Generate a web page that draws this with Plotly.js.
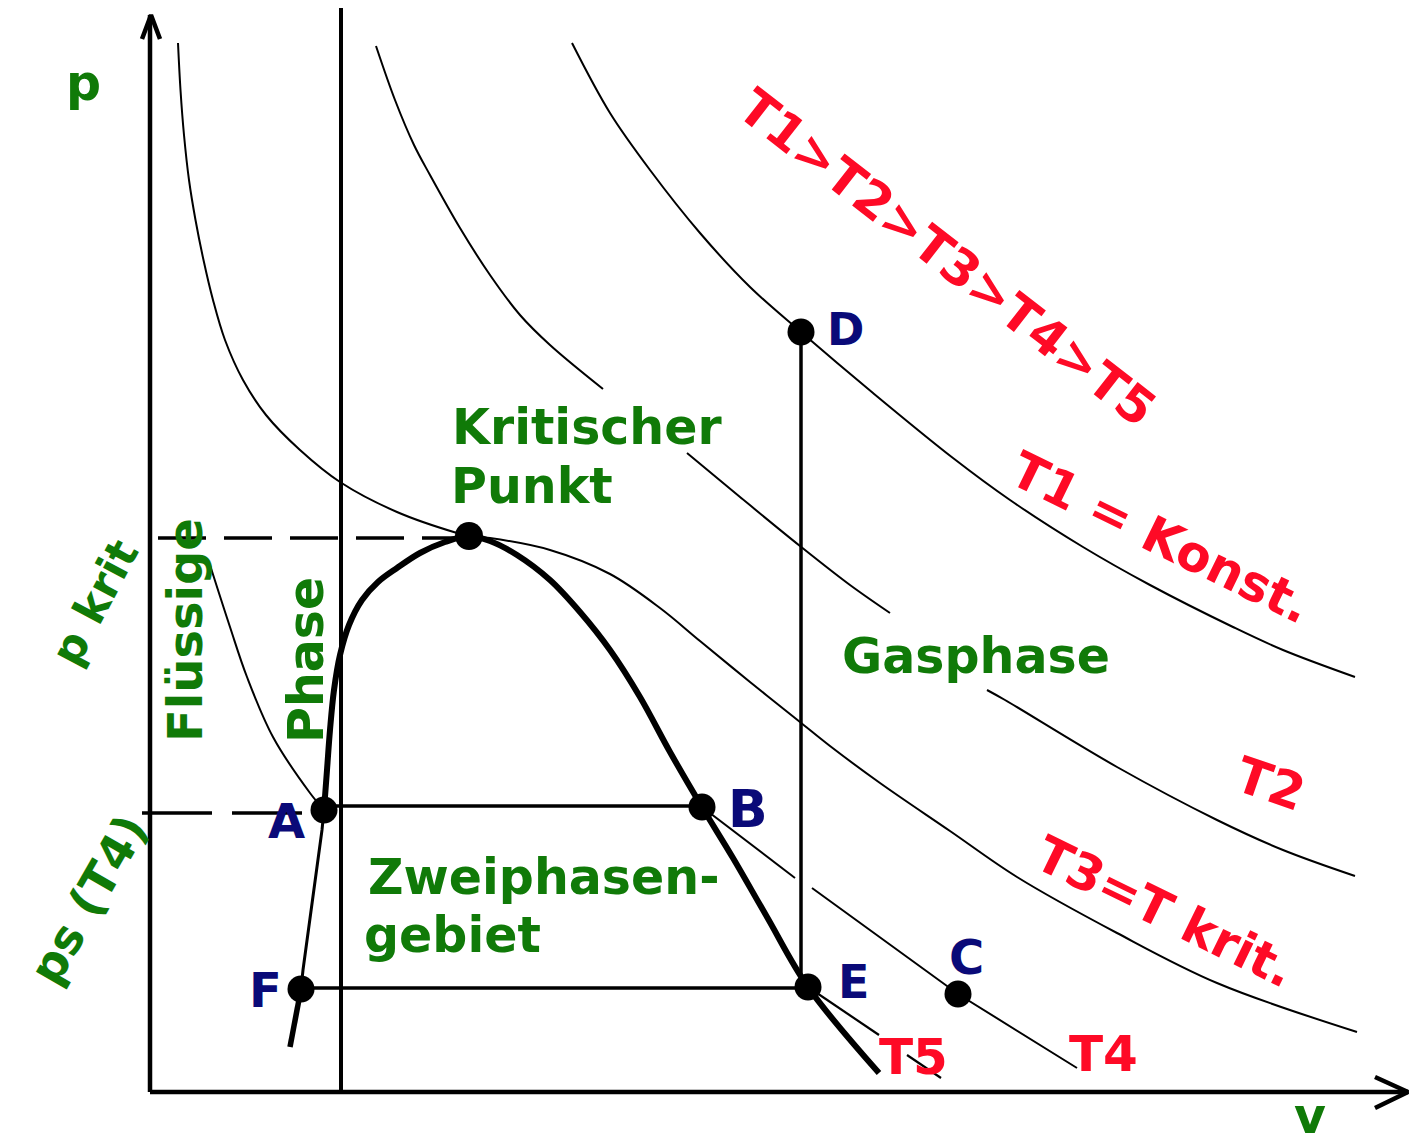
<!DOCTYPE html>
<html>
<head>
<meta charset="utf-8">
<script src="https://cdn.plot.ly/plotly-3.0.1.min.js"></script>
<style>html,body{margin:0;padding:0;background:#fff;}#chart{width:1419px;height:1145px;}</style>
</head>
<body>
<div id="chart"></div>
<script>
// ---- data (v = specific volume, p = pressure, arbitrary units) ----
const axisX_v = [0, 12.58], axisX_p = [0, 0];
const arrowX_v = [12.25, 12.58, 12.25], arrowX_p = [0.15, 0, -0.16];
const axisY_v = [0, 0], axisY_p = [0, 10.77];
const arrowY_v = [-0.08, 0.01, 0.10], arrowY_p = [10.53, 10.77, 10.53];
const liquidLimit_v = [1.91, 1.91], liquidLimit_p = [0, 10.84];

const T1_v = [4.22, 4.60, 5.00, 5.50, 6.00, 6.51, 7.23, 8.03, 8.60, 9.33, 10.00, 10.83, 11.33, 12.05];
const T1_p = [10.49, 9.79, 9.22, 8.59, 8.05, 7.60, 6.99, 6.34, 5.92, 5.45, 5.07, 4.65, 4.42, 4.15];

const T2_v = [2.26, 2.45, 2.64, 2.80, 3.10, 3.40, 3.70, 4.00, 4.53, null, 5.37, 5.90, 6.50, 7.00, 7.40, null, 8.37, 8.55, 9.67, 10.67, 11.33, 12.05];
const T2_p = [10.46, 9.92, 9.47, 9.17, 8.64, 8.17, 7.77, 7.47, 7.03, null, 6.39, 5.95, 5.46, 5.07, 4.79, null, 4.02, 3.92, 3.25, 2.72, 2.42, 2.16];

const T3_v = [0.28, 0.305, 0.34, 0.39, 0.455, 0.535, 0.63, 0.75, 0.93, 1.16, 1.50, 1.90, 2.47, 3.07, 3.19, 3.40, 4.00, 4.60, 5.10, 5.50, 6.00, 6.50, 6.80, 7.30, 8.00, 8.67, 9.67, 10.67, 12.07];
const T3_p = [10.49, 10.02, 9.57, 9.12, 8.72, 8.32, 7.92, 7.52, 7.12, 6.77, 6.42, 6.10, 5.80, 5.59, 5.56, 5.54, 5.42, 5.18, 4.84, 4.51, 4.10, 3.70, 3.46, 3.09, 2.61, 2.15, 1.59, 1.09, 0.60];

const T4liq_v = [0.60, 0.80, 0.97, 1.23, 1.60, 1.74];
const T4liq_p = [5.27, 4.65, 4.15, 3.55, 2.99, 2.82];
const T4sat_v = [1.74, 5.52], T4sat_p = [2.86, 2.86];
const T4gas_v = [5.52, 6.45, null, 6.62, 8.08, 9.27];
const T4gas_p = [2.85, 2.14, null, 2.04, 0.98, 0.24];

const T5liq_v = [1.74, 1.72, 1.53, 1.51];
const T5liq_p = [2.82, 2.62, 1.22, 1.03];
const T5sat_v = [1.51, 6.58], T5sat_p = [1.04, 1.04];
const T5gas_v = [6.58, 7.29, null, 7.57, 7.91];
const T5gas_p = [1.05, 0.57, null, 0.37, 0.14];

const domeStub_v = [1.40, 1.51], domeStub_p = [0.45, 1.03];
const dome_v = [1.74, 1.77, 1.80, 1.84, 1.90, 1.99, 2.12, 2.28, 2.47, 2.70, 2.95, 3.19, 3.40, 3.67, 4.00, 4.30, 4.60, 4.90, 5.20, 5.52, 5.83, 6.17, 6.58, 7.29];
const dome_p = [2.82, 3.22, 3.62, 4.02, 4.37, 4.67, 4.92, 5.10, 5.24, 5.39, 5.50, 5.56, 5.51, 5.37, 5.12, 4.80, 4.42, 3.95, 3.40, 2.85, 2.34, 1.75, 1.05, 0.19];

const DE_v = [6.51, 6.51], DE_p = [7.60, 1.05];
const pkrit_v = [0.08, 3.10], pkrit_p = [5.54, 5.54];
const psT4_v = [-0.08, 1.70], psT4_p = [2.79, 2.79];

const statePoints = ['A', 'B', 'C', 'D', 'E', 'F'];
const state_v = [1.74, 5.52, 8.08, 6.51, 6.58, 1.51];
const state_p = [2.82, 2.85, 0.98, 7.60, 1.05, 1.03];
const crit_v = [3.19], crit_p = [5.56];

// ---- drawing ----
const BLACK = '#000000';
const GREEN = '#107a08';
const RED = '#fe0a26';
const NAVY = '#0a0a78';
const FONT = 'DejaVu Sans, Verdana, sans-serif';

function line(x, y, w, dash, shape) {
  return {x: x, y: y, type: 'scatter', mode: 'lines', hoverinfo: 'skip', showlegend: false,
    line: {color: BLACK, width: w, dash: dash || 'solid', shape: shape || 'linear', smoothing: 1}};
}

const traces = [
  line(axisX_v, axisX_p, 4.5), line(arrowX_v, arrowX_p, 4.5),
  line(axisY_v, axisY_p, 4.5), line(arrowY_v, arrowY_p, 4.5),
  line(liquidLimit_v, liquidLimit_p, 4),
  line(T1_v, T1_p, 2, null, 'spline'),
  line(T2_v, T2_p, 2, null, 'spline'),
  line(T3_v, T3_p, 2, null, 'spline'),
  line(T4liq_v, T4liq_p, 2, null, 'spline'),
  line(T4sat_v, T4sat_p, 3.5),
  line(T4gas_v, T4gas_p, 2, null, 'linear'),
  line(T5liq_v, T5liq_p, 3, null, 'linear'),
  line(T5sat_v, T5sat_p, 3.5),
  line(T5gas_v, T5gas_p, 2.2),
  line(domeStub_v, domeStub_p, 5.5),
  line(dome_v, dome_p, 6, null, 'spline'),
  line(DE_v, DE_p, 3.5),
  line(pkrit_v, pkrit_p, 3.5, '48px,18px'),
  line(psT4_v, psT4_p, 3.5, '70px,20px'),
  {x: state_v, y: state_p, type: 'scatter', mode: 'markers', hoverinfo: 'skip', showlegend: false,
   marker: {color: BLACK, size: 27}},
  {x: crit_v, y: crit_p, type: 'scatter', mode: 'markers', hoverinfo: 'skip', showlegend: false,
   marker: {color: BLACK, size: 28}}
];

function ann(text, x, y, color, size, angle) {
  return {text: '<b>' + text + '</b>', x: x, y: y, xref: 'x', yref: 'y', showarrow: false,
    xanchor: 'center', yanchor: 'middle', textangle: angle || 0,
    font: {family: FONT, size: size, color: color}};
}

const annotations = [
  ann('p', -0.67, 10.09, GREEN, 49),
  ann('p krit', -0.56, 4.90, GREEN, 44, -62),
  ann('ps (T4)', -0.62, 1.93, GREEN, 47, -60),
  ann('Flüssige', 0.35, 4.62, GREEN, 48, -90),
  ann('Phase', 1.56, 4.32, GREEN, 49, -90),
  ann('Kritischer', 4.37, 6.65, GREEN, 49),
  ann('Punkt', 3.82, 6.06, GREEN, 49),
  ann('Gasphase', 8.26, 4.36, GREEN, 49),
  ann('Zweiphasen-', 3.93, 2.15, GREEN, 49),
  ann('gebiet', 3.02, 1.57, GREEN, 49),
  ann('v', 11.60, -0.24, GREEN, 49),
  ann('T1>T2>T3>T4>T5', 7.97, 8.34, RED, 50, 38),
  ann('T1 = Konst.', 10.11, 5.54, RED, 50, 26),
  ann('T2', 11.20, 3.08, RED, 50, 19),
  ann('T3=T krit.', 10.15, 1.80, RED, 50, 26),
  ann('T5', 7.63, 0.35, RED, 50),
  ann('T4', 9.53, 0.38, RED, 50),
  ann(statePoints[0], 1.36, 2.71, NAVY, 48),
  ann(statePoints[1], 5.98, 2.83, NAVY, 52),
  ann(statePoints[2], 8.16, 1.35, NAVY, 48),
  ann(statePoints[3], 6.95, 7.63, NAVY, 45),
  ann(statePoints[4], 7.03, 1.10, NAVY, 46),
  ann(statePoints[5], 1.15, 1.02, NAVY, 48)
];

const layout = {
  width: 1419, height: 1145,
  margin: {l: 0, r: 0, t: 0, b: 0, pad: 0},
  paper_bgcolor: '#ffffff', plot_bgcolor: '#ffffff',
  showlegend: false, hovermode: false, dragmode: false,
  xaxis: {range: [-1.5, 12.69], visible: false, fixedrange: true},
  yaxis: {range: [-0.53, 10.92], visible: false, fixedrange: true},
  annotations: annotations
};

Plotly.newPlot('chart', traces, layout, {displayModeBar: false, staticPlot: true});
</script>
</body>
</html>
